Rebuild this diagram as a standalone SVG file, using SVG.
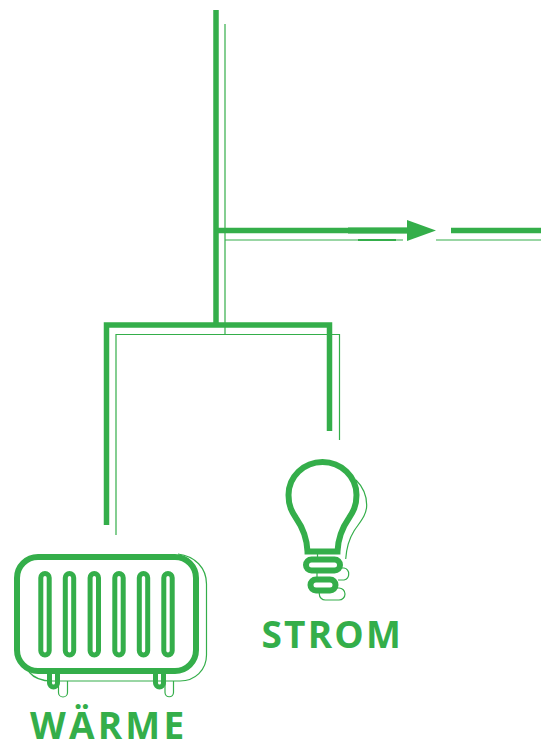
<svg xmlns="http://www.w3.org/2000/svg" width="541" height="742" viewBox="0 0 541 742">
<style>
.k{fill:none;stroke:#34ae4a;stroke-width:5.500}
.t{fill:none;stroke:#34ae4a;stroke-width:1.200}
.s{fill:none;stroke:#34ae4a;stroke-width:5}
.r{fill:none;stroke:#34ae4a;stroke-width:6}
.l{font-family:"Open Sans",sans-serif;font-weight:700;font-size:37px;fill:#34ae4a}
</style>
<defs><rect id="slot" x="-4.200" y="573.500" width="8.400" height="81.500" rx="4.200" class="s"/></defs>
<g id="connectors">
<path class="t" d="M225 24V334M225 240H403M436 240H541M116 535V334.500H339.500V440"/>
<path fill="none" stroke="#34ae4a" stroke-width="1.800" d="M358 240H396"/>
<path class="k" d="M216 10V325M216 230.500H410M451 230.500H541M106.500 525V325H329.500V431"/>
<path fill="none" stroke="#34ae4a" stroke-width="5.800" d="M348 230.500H410"/>
<path fill="#34ae4a" d="M407 220L436 230.500L407 241Z"/>
</g>
<g id="radiator">
<path class="t" d="M178 554C195 556 206.500 568 206.500 584V655C206.500 670 195 681 180 681H52C42 681 34 678 29 672"/>
<path class="t" d="M58.500 681V692.500A4 4 0 0 0 67.500 692.500V681M165 681V692.500A4 4 0 0 0 173.500 692.500V681"/>
<rect class="r" x="17" y="557" width="179" height="114" rx="21"/>
<path class="s" d="M49.500 673V683A4 4 0 0 0 57.500 683V673M155.500 673V683A4 4 0 0 0 163.500 683V673"/>
<use href="#slot" x="45"/><use href="#slot" x="69.500"/><use href="#slot" x="94.300"/><use href="#slot" x="119"/><use href="#slot" x="143.500"/><use href="#slot" x="168"/>
</g>
<g id="bulb">
<path class="t" d="M356 480C363 487 366.700 495 366.700 505C366.700 516 359 523 354 531C349 539 346.500 548 345.700 559"/>
<path class="t" d="M342 568H344A5.500 5.500 0 0 1 348.700 574A6 6 0 0 1 344 580H338M319.300 593V594A6 6 0 0 0 325.300 600H339A6 6 0 0 0 339 588H336M317.500 554V557M317 573V577"/>
<path class="r" d="M307.500 551.500H337.500C338 538 342 528 349 518C353 512 356.500 506 356.500 495A34 33 0 0 0 288.500 495C288.500 506 292 512 296 518C303 528 307 538 307.500 551.500Z"/>
<rect class="r" x="306" y="559.500" width="34" height="11" rx="5.500"/>
<rect class="r" x="310.500" y="579.500" width="25" height="11" rx="5.500"/>
</g>
<g id="labels">
<text class="l" x="261.500" y="648" letter-spacing="2.200">STROM</text>
<text class="l" x="30" y="738.500" letter-spacing="3.200">WÄRME</text>
</g>
</svg>
